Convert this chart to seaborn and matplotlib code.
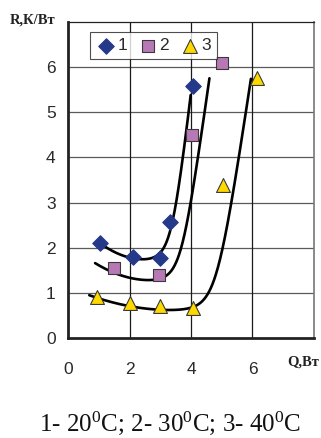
import numpy as np
import pandas as pd
import seaborn as sns
import matplotlib.pyplot as plt

# Measured thermal resistance R (K/W) versus heat load Q (W)
q1 = [1.05, 2.1, 3.0, 3.33, 4.08]
r1 = [2.1, 1.8, 1.78, 2.56, 5.58]
q2 = [1.48, 2.95, 4.02, 5.0]
r2 = [1.56, 1.39, 4.5, 6.1]
q3 = [0.95, 2.0, 3.0, 4.08, 5.03, 6.14]
r3 = [0.9, 0.77, 0.72, 0.66, 3.38, 5.76]
series_names = ["1", "2", "3"]
x_ticks = [0, 2, 4, 6]
y_ticks = [0, 1, 2, 3, 4, 5, 6]
caption = "1- 20$^0$C; 2- 30$^0$C; 3- 40$^0$C"

# Trend curves: R = floor + bow*(Q - q_min)^2 + slope*w*ln(1 + exp((Q - q_knee)/w))
trend_span = [(1.05, 3.99), (0.88, 4.6), (0.69, 5.95)]
trend_floor = [1.74, 1.28, 0.62]
trend_qmin = [2.5, 2.7, 3.4]
trend_bow = [0.17, 0.115, 0.045]
trend_slope = [5.3, 4.4, 4.3]
trend_knee = [3.38, 3.68, 4.83]
trend_width = [0.18, 0.2, 0.25]

sns.set_theme(style="white")
plt.rcParams["font.family"] = ["Liberation Sans", "DejaVu Sans"]
plt.rcParams["mathtext.fontset"] = "custom"
plt.rcParams["mathtext.rm"] = "Liberation Serif"
plt.rcParams["mathtext.it"] = "Liberation Serif"

points = pd.concat([
    pd.DataFrame({"Q": q, "R": r, "series": s})
    for q, r, s in zip([q1, q2, q3], [r1, r2, r3], series_names)
], ignore_index=True)

curves = []
for i, s in enumerate(series_names):
    lo, hi = trend_span[i]
    xs = np.linspace(lo, hi, 300)
    w = trend_width[i]
    ys = (trend_floor[i] + trend_bow[i] * (xs - trend_qmin[i]) ** 2
          + trend_slope[i] * w * np.log1p(np.exp((xs - trend_knee[i]) / w)))
    curves.append(pd.DataFrame({"Q": xs, "R": ys, "series": s}))
curves = pd.concat(curves, ignore_index=True)

fig = plt.figure(figsize=(3.21, 4.38), dpi=100)
ax = fig.add_axes([0.212, 0.228, 0.766, 0.722])

sns.lineplot(data=curves, x="Q", y="R", units="series", estimator=None,
             color="black", linewidth=1.9, ax=ax, legend=False, zorder=3)

palette = {"1": "#25398a", "2": "#b779b6", "3": "#ffd800"}
markers = {"1": "D", "2": "s", "3": "^"}
sizes = {"1": 62, "2": 80, "3": 100}
edges = {"1": "#25398a", "2": "#3a3a3a", "3": "#3a3a3a"}
for s in series_names:
    sub = points[points["series"] == s]
    sns.scatterplot(data=sub, x="Q", y="R", marker=markers[s], color=palette[s],
                    s=sizes[s], edgecolor=edges[s], linewidth=0.8, ax=ax,
                    label=s, zorder=4)

ax.set_xlim(0, 8)
ax.set_ylim(0, 7)
ax.set_xticks(x_ticks)
ax.set_yticks(y_ticks)
ax.set_xlabel("")
ax.set_ylabel("")
ax.tick_params(axis="both", length=0, labelsize=12.5, colors="#2a2a2a")
ax.tick_params(axis="x", pad=17)
ax.tick_params(axis="y", pad=9)

for y in range(1, 7):
    ax.axhline(y, color="#5a5a5a", linewidth=0.9, zorder=1)
for x in [2, 4, 6]:
    ax.axvline(x, color="#1a1a1a", linewidth=0.9, zorder=1)

for side in ["left", "bottom"]:
    ax.spines[side].set_color("#222222")
    ax.spines[side].set_linewidth(2.0)
ax.spines["top"].set_color("#222222")
ax.spines["top"].set_linewidth(0.9)
ax.spines["right"].set_color("#777777")
ax.spines["right"].set_linewidth(1.2)

leg = ax.legend(ncol=3, loc="upper left", bbox_to_anchor=(0.089, 0.968),
                frameon=True, fancybox=False, fontsize=12.5, handletextpad=0.05,
                columnspacing=0.6, borderpad=0.35, handlelength=1.2,
                borderaxespad=0)
leg.get_frame().set_edgecolor("#222222")
leg.get_frame().set_linewidth(0.8)
for t in leg.get_texts():
    t.set_color("#2a2a2a")

fig.text(0.03, 0.954, "R,К/Вт", family="Liberation Serif", fontweight="bold",
         fontsize=10.5, ha="left", va="center", color="#222222")
fig.text(0.995, 0.174, "Q,Вт", family="Liberation Serif", fontweight="bold",
         fontsize=10.5, ha="right", va="center", color="#222222")
fig.text(0.53, 0.016, caption, family="Liberation Serif", fontsize=18,
         ha="center", va="baseline", color="#111111")

fig.savefig("out.png", dpi=100)
